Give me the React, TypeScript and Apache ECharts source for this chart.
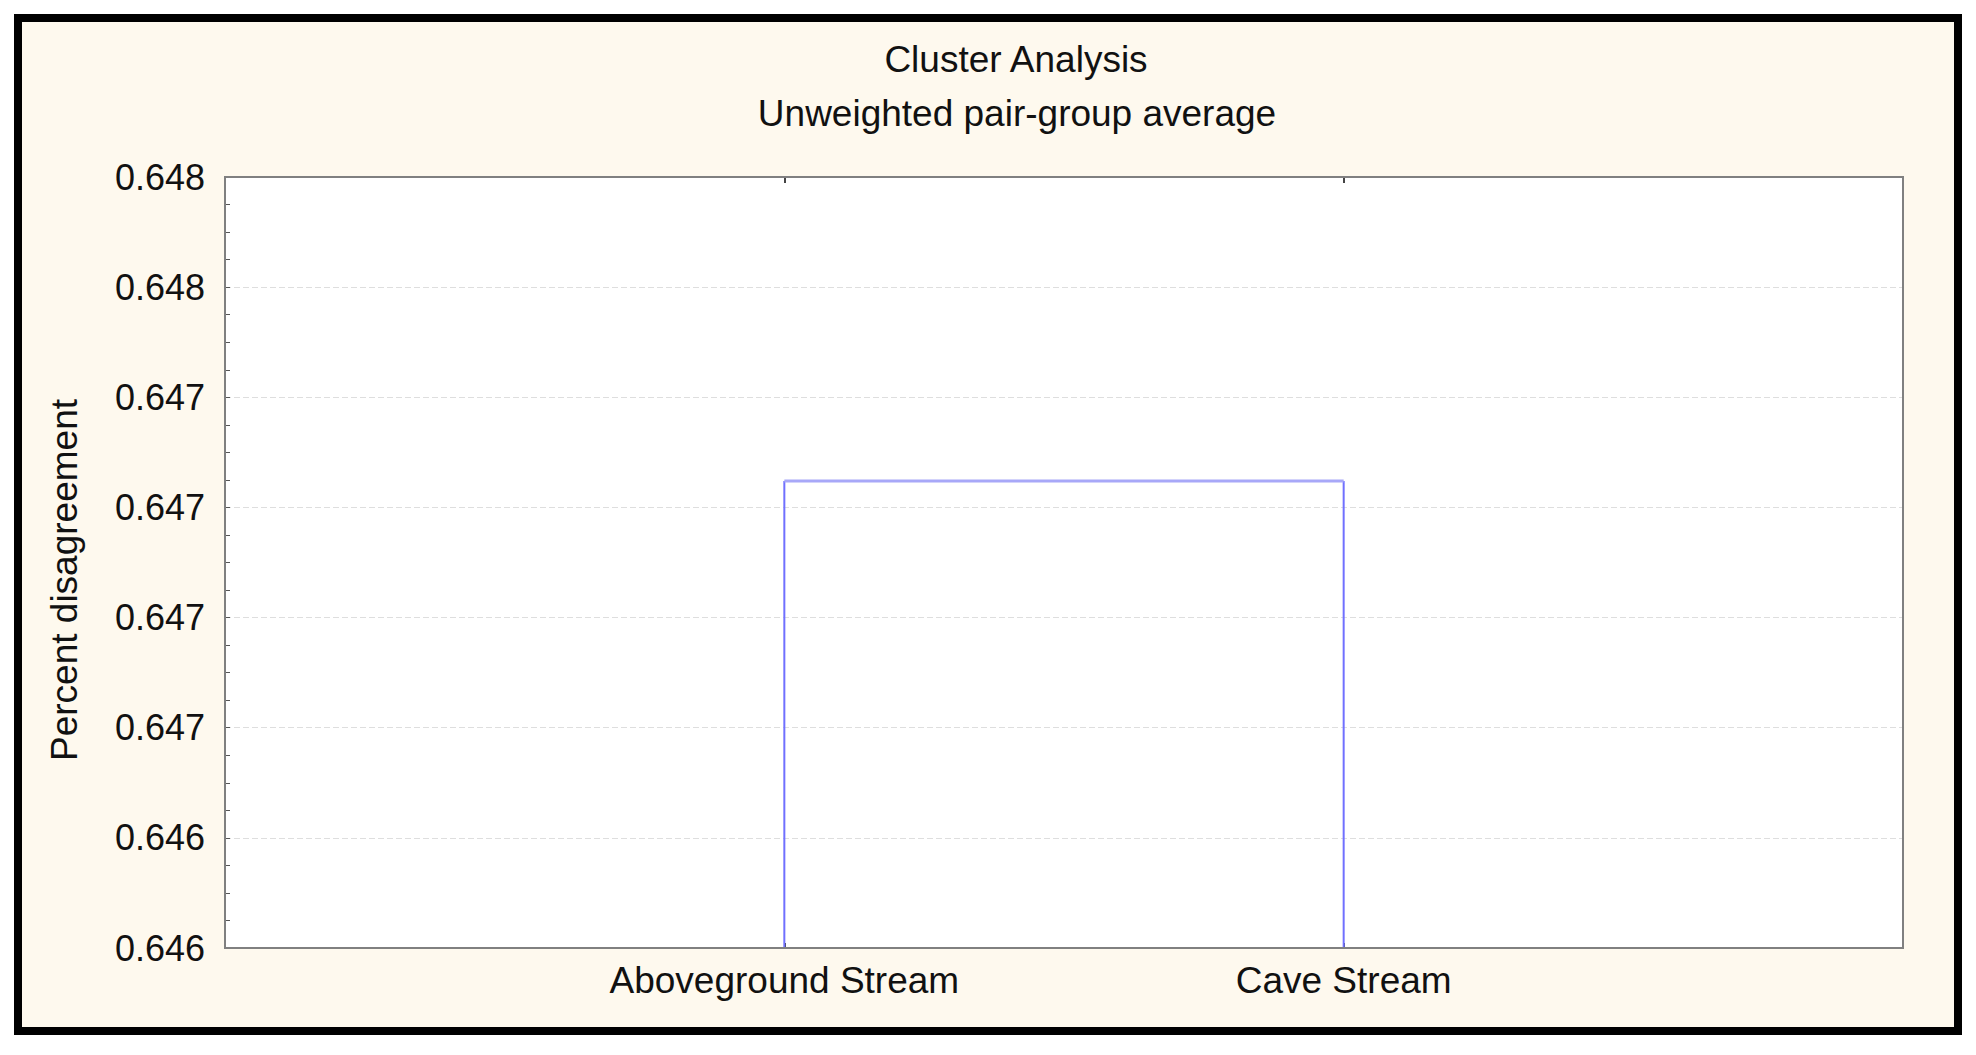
import React, { useEffect, useRef } from "react";
import * as echarts from "echarts";

// ---- data ----
const titleMain = "Cluster Analysis";
const titleSub = "Unweighted pair-group average";
const yAxisTitle = "Percent disagreement";
const leafNames = ["Aboveground Stream", "Cave Stream"];
const leafPositions = [1, 2];
const joinHeights = [0.64706];
const yMin = 0.646;
const yStep = 0.00025;
const yTickLabels = ["0.646", "0.646", "0.647", "0.647", "0.647", "0.647", "0.648", "0.648"];

const FONT = "'Liberation Sans', Arial, sans-serif";

const GRID = { left: 225, top: 177, right: 73, bottom: 107 };
const W = 1976;
const H = 1055;

export default function App() {
  const ref = useRef<HTMLDivElement>(null);
  useEffect(() => {
    if (!ref.current) return;
    const chart = echarts.init(ref.current, null, { renderer: "svg" });
    const yMax = yMin + yStep * (yTickLabels.length - 1);
    const xMax = leafNames.length + 1;
    const h = joinHeights[0];
    const verticals = leafPositions.map((x) => ({
      type: "line",
      data: [
        [x, yMin],
        [x, h],
      ],
      symbol: "none",
      lineStyle: { color: "#7070ff", width: 2 },
      z: 3,
    }));
    const option: any = {
      animation: false,
      backgroundColor: "#ffffff",
      textStyle: { fontFamily: FONT },
      graphic: [
        {
          type: "rect",
          z: -10,
          shape: { x: 18, y: 18, width: 1940, height: 1013 },
          style: { fill: "#fef9ee", stroke: "#000000", lineWidth: 8 },
          silent: true,
        },
        {
          type: "rect",
          z: 100,
          shape: {
            x: GRID.left,
            y: GRID.top,
            width: W - GRID.left - GRID.right,
            height: H - GRID.top - GRID.bottom,
          },
          style: { fill: "none", stroke: "#808080", lineWidth: 2 },
          silent: true,
        },
        {
          type: "text",
          x: 1016,
          y: 59,
          style: {
            text: titleMain,
            fontSize: 37,
            fontFamily: FONT,
            fill: "#111",
            align: "center",
            verticalAlign: "middle",
          },
        },
        {
          type: "text",
          x: 1017,
          y: 113,
          style: {
            text: titleSub,
            fontSize: 37,
            fontFamily: FONT,
            fill: "#111",
            align: "center",
            verticalAlign: "middle",
          },
        },
        {
          type: "text",
          x: 64,
          y: 580,
          rotation: Math.PI / 2,
          style: {
            text: yAxisTitle,
            fontSize: 37,
            fontFamily: FONT,
            fill: "#111",
            align: "center",
            verticalAlign: "middle",
          },
        },
      ],
      grid: {
        ...GRID,
        show: true,
        backgroundColor: "#ffffff",
        borderWidth: 0,
        z: 0,
      },
      xAxis: [
        {
          type: "value",
          min: 0,
          max: xMax,
          interval: 1,
          axisLine: { show: false },
          axisTick: { show: true, inside: true, length: 5, lineStyle: { color: "#444", width: 2 } },
          splitLine: { show: false },
          axisLabel: {
            fontSize: 37,
            fontFamily: FONT,
            color: "#111",
            margin: 14,
            formatter: (v: number) => {
              const i = Math.round(v) - 1;
              return i >= 0 && i < leafNames.length ? leafNames[i] : "";
            },
          },
        },
        {
          type: "value",
          position: "top",
          min: 0,
          max: xMax,
          interval: 1,
          axisLine: { show: false },
          axisTick: { show: true, inside: true, length: 6, lineStyle: { color: "#444", width: 2 } },
          axisLabel: { show: false },
          splitLine: { show: false },
        },
      ],
      yAxis: {
        type: "value",
        min: yMin,
        max: yMax,
        interval: yStep,
        axisLine: { show: false },
        axisTick: { show: true, inside: true, length: 5, lineStyle: { color: "#555", width: 1 } },
        minorTick: { show: true, splitNumber: 4, length: 5, lineStyle: { color: "#555", width: 1 } },
        splitLine: { show: true, lineStyle: { color: "#dedede", width: 1, type: [6, 3] } },
        axisLabel: {
          fontSize: 36,
          fontFamily: FONT,
          color: "#111",
          margin: 20,
          formatter: (v: number) => {
            const i = Math.round((v - yMin) / yStep);
            return yTickLabels[i] ?? "";
          },
        },
      },
      series: [
        ...verticals,
        {
          type: "line",
          data: [
            [leafPositions[0], h],
            [leafPositions[1], h],
          ],
          symbol: "none",
          lineStyle: { color: "#a8a8f8", width: 3 },
          z: 4,
        },
      ],
    };
    chart.setOption(option);
    return () => chart.dispose();
  }, []);
  return (
    <div
      ref={ref}
      style={{ position: "fixed", left: 0, top: 0, width: W, height: H }}
    />
  );
}
